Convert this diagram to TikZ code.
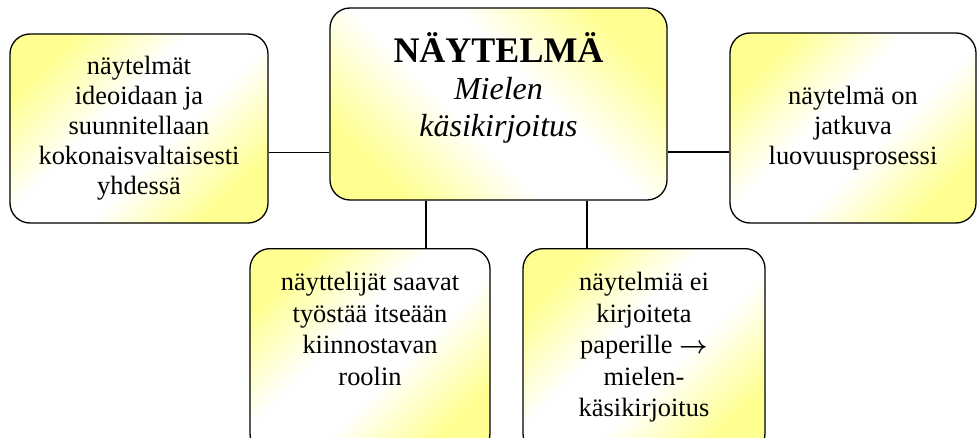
\documentclass[tikz,border=0pt]{standalone}
\usepackage{fontspec}
\setmainfont{Liberation Serif}
\usetikzlibrary{calc}
\definecolor{keltainen}{RGB}{255,255,145}
\pgfdeclareverticalshading{kulma}{100bp}{color(0bp)=(keltainen); color(25bp)=(keltainen);
    color(43bp)=(white); color(57bp)=(white); color(75bp)=(keltainen); color(100bp)=(keltainen)}

\begin{document}
\begin{tikzpicture}[x=1pt, y=1pt,
    laatikko/.style={draw=black, line width=1.3pt, rounded corners=20pt,
        shading=kulma, shading angle=45, inner sep=0pt},
    teksti/.style={align=center, inner sep=0pt,
        font=\fontsize{26.4}{30}\selectfont},
    alateksti/.style={teksti, font=\fontsize{26.4}{31.5}\selectfont},
    viiva/.style={draw=black, line width=1.3pt}]
    \useasboundingbox (0,0) rectangle (979,437);
    \clip (0,0) rectangle (979,437);

    % keskimmainen laatikko
    \node[laatikko, shading angle=-45, minimum width=337pt, minimum height=192pt] (paa) at (498.5,333) {};
    \node[teksti, anchor=north, font=\fontsize{32}{37}\selectfont] (otsikko) at ([yshift=-25pt]paa.north)
        {{\fontsize{36}{37}\selectfont\bfseries NÄYTELMÄ}\\ \textit{Mielen}\\ \textit{käsikirjoitus}};

    % sivulaatikot
    \node[laatikko, teksti, minimum width=258pt, minimum height=189pt] (vasen) at (139,308.5)
        {näytelmät\\ ideoidaan ja\\ suunnitellaan\\ kokonaisvaltaisesti\\ yhdessä};
    \node[laatikko, teksti, minimum width=246pt, minimum height=190pt] (oikea) at (853,309)
        {näytelmä on\\ jatkuva\\ luovuusprosessi};

    % alalaatikot
    \node[laatikko, anchor=north, minimum width=240pt, minimum height=205pt] (ala1) at (370,189) {};
    \node[alateksti, anchor=north] (ala1teksti) at ([yshift=-24pt]ala1.north)
        {näyttelijät saavat\\ työstää itseään\\ kiinnostavan\\ roolin};
    \node[laatikko, anchor=north, minimum width=242pt, minimum height=205pt] (ala2) at (644,189) {};
    \node[alateksti, anchor=north] (ala2teksti) at ([yshift=-24pt]ala2.north)
        {näytelmiä ei\\ kirjoiteta\\ paperille {\boldmath$\rightarrow$}\\ mielen-\\ käsikirjoitus};

    % yhdysviivat
    \draw[viiva] ([yshift=-24pt]vasen.east) -- ([yshift=-24pt]vasen.east -| paa.west);
    \draw[viiva] ([yshift=-24pt]oikea.west) -- ([yshift=-24pt]oikea.west -| paa.east);
    \draw[viiva] ([xshift=-72.5pt]paa.south) -- ([xshift=-72.5pt]paa.south |- ala1.north);
    \draw[viiva] ([xshift=88.5pt]paa.south) -- ([xshift=88.5pt]paa.south |- ala2.north);
\end{tikzpicture}
\end{document}
